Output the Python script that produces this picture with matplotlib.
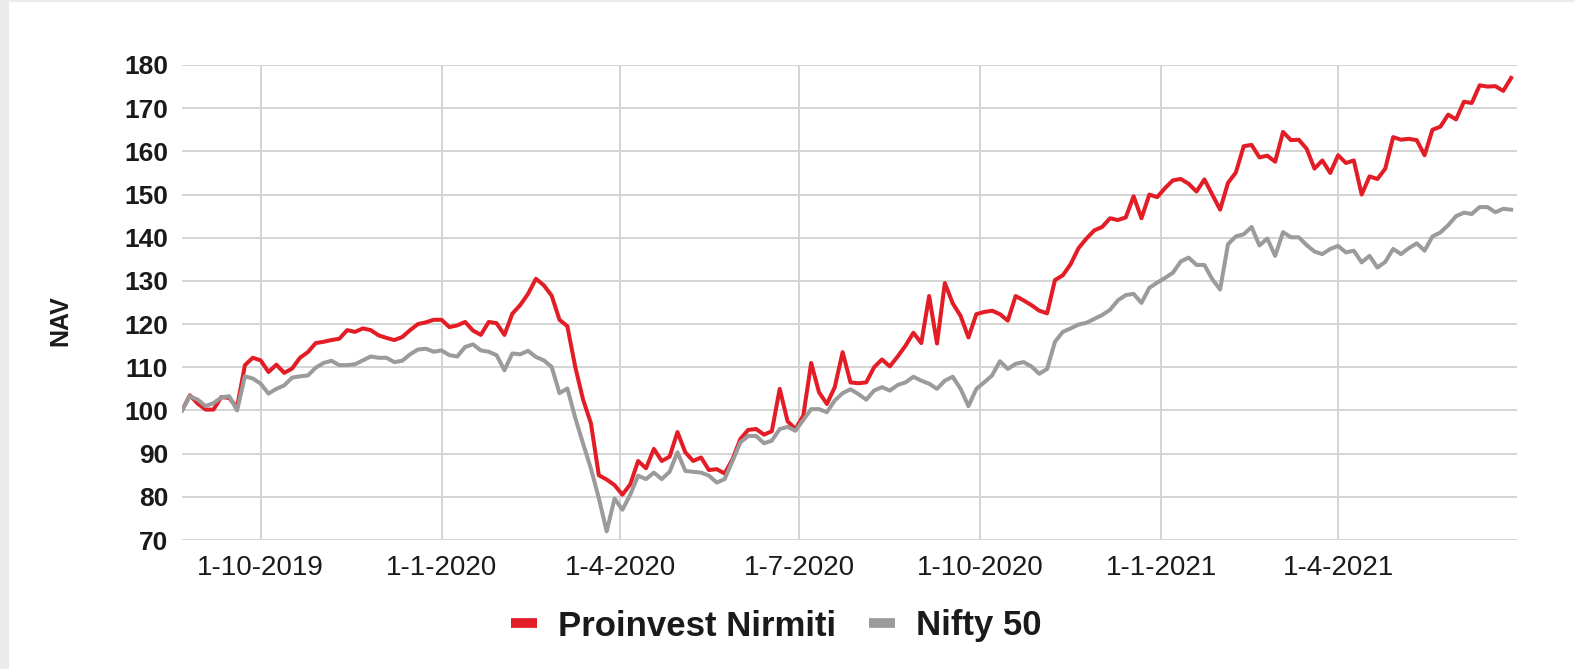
import pandas as pd
import matplotlib
matplotlib.use('Agg')
import matplotlib.pyplot as plt
from matplotlib.lines import Line2D
from matplotlib.patches import Rectangle

plt.rcParams['font.family'] = ['Liberation Sans', 'DejaVu Sans']

# NAV, um ponto a cada 4 dias a partir de 22-8-2019
proinvest = [
    100.0, 103.5, 101.6, 100.2, 100.2, 103.1, 102.9, 100.7, 110.5, 112.2,
    111.6, 108.9, 110.6, 108.7, 109.7, 112.2, 113.5, 115.6, 115.9, 116.3,
    116.6, 118.6, 118.2, 119.0, 118.6, 117.4, 116.8, 116.3, 117.0, 118.6,
    120.0, 120.4, 121.0, 121.0, 119.3, 119.7, 120.5, 118.5, 117.5, 120.5,
    120.2, 117.5, 122.4, 124.4, 127.0, 130.5, 129.0, 126.6, 121.0, 119.5,
    110.1, 102.5, 97.0, 85.0, 84.0, 82.7, 80.5, 82.9, 88.3, 86.6,
    91.1, 88.3, 89.3, 95.0, 90.3, 88.3, 89.1, 86.2, 86.4, 85.4,
    88.7, 93.4, 95.5, 95.7, 94.4, 95.2, 105.0, 97.5, 95.7, 98.8,
    111.0, 104.2, 101.5, 105.4, 113.5, 106.5, 106.3, 106.5, 110.0, 111.8,
    110.2, 112.5, 115.0, 118.0, 115.6, 126.5, 115.5, 129.5, 124.8, 121.9,
    116.9, 122.3, 122.8, 123.1, 122.3, 120.8, 126.5, 125.5, 124.4, 123.1,
    122.5, 130.2, 131.3, 133.9, 137.6, 139.8, 141.7, 142.5, 144.5, 144.1,
    144.7, 149.6, 144.5, 150.0, 149.4, 151.5, 153.3, 153.6, 152.5, 150.7,
    153.5, 150.0, 146.5, 152.7, 155.1, 161.2, 161.5, 158.6, 159.0, 157.6,
    164.5, 162.6, 162.7, 160.6, 156.0, 157.9, 155.0, 159.1, 157.3, 157.9,
    150.0, 154.2, 153.6, 156.0, 163.3, 162.7, 162.9, 162.6, 159.1, 165.0,
    165.7, 168.5, 167.4, 171.5, 171.2, 175.3, 175.0, 175.1, 174.0, 177.0,
]

nifty = [
    100.0, 103.3, 102.5, 101.0, 101.7, 103.0, 103.3, 100.0, 107.9, 107.4,
    106.2, 103.9, 105.0, 105.8, 107.6, 107.9, 108.1, 109.9, 111.0, 111.5,
    110.5, 110.5, 110.7, 111.6, 112.5, 112.2, 112.2, 111.2, 111.5, 113.0,
    114.1, 114.3, 113.6, 113.9, 112.8, 112.5, 114.7, 115.3, 113.9, 113.6,
    112.8, 109.3, 113.2, 113.0, 113.8, 112.4, 111.6, 110.1, 104.0, 105.1,
    98.3, 92.3, 86.5, 79.7, 72.0, 79.6, 77.0, 80.5, 84.9, 84.1,
    85.6, 84.1, 85.8, 90.3, 86.0, 85.8, 85.6, 84.9, 83.3, 84.1,
    88.3, 92.6, 94.1, 94.1, 92.4, 93.0, 95.7, 96.2, 95.3, 97.8,
    100.3, 100.3, 99.6, 102.3, 104.0, 104.9, 103.8, 102.5, 104.6, 105.4,
    104.6, 105.9, 106.5, 107.8, 106.9, 106.2, 105.0, 106.9, 107.8, 105.0,
    101.0, 105.0, 106.5, 108.1, 111.4, 109.6, 110.8, 111.2, 110.2, 108.5,
    109.6, 115.9, 118.2, 119.0, 119.9, 120.3, 121.2, 122.1, 123.3, 125.5,
    126.7, 127.0, 124.9, 128.4, 129.6, 130.7, 131.9, 134.5, 135.4, 133.7,
    133.7, 130.4, 128.0, 138.5, 140.3, 140.8, 142.5, 138.2, 139.8, 135.8,
    141.3, 140.1, 140.1, 138.3, 136.8, 136.2, 137.4, 138.1, 136.6, 137.0,
    134.3, 135.8, 133.1, 134.4, 137.4, 136.2, 137.6, 138.7, 137.0, 140.3,
    141.2, 142.9, 145.0, 145.8, 145.5, 147.1, 147.1, 145.9, 146.7, 146.5,
]

datas = pd.date_range('2019-08-22', periods=len(proinvest), freq='4D')
marcos = pd.to_datetime(['2019-10-01', '2020-01-01', '2020-04-01', '2020-07-01',
                         '2020-10-01', '2021-01-01', '2021-04-01'])

cor_fundo = '#ebebeb'
vermelho = '#e31d25'
cinza = '#9b9b9b'
texto = '#1a1a1a'

fig = plt.figure(figsize=(15.75, 6.69), dpi=100, facecolor=cor_fundo)
# cartao branco atras de tudo
fig.patches.append(Rectangle((8.5 / 1575, 0), 1, 1 - 2 / 669, transform=fig.transFigure,
                             facecolor='white', edgecolor='none', zorder=-10))

ax = fig.add_axes([182 / 1575, 1 - 540 / 669, (1517 - 182) / 1575, (540 - 65) / 669])
ax.set_zorder(1)
ax.set_facecolor('white')

ax.plot(datas, proinvest, color=vermelho, lw=2.9, solid_joinstyle='round')
ax.plot(datas, nifty, color=cinza, lw=2.9, solid_joinstyle='round')

ax.set_ylim(70, 180)
ax.set_yticks(range(70, 181, 10))
ax.set_xlim(pd.Timestamp('2019-08-22'), pd.Timestamp('2021-07-01'))
ax.set_xticks(marcos)
ax.set_xticklabels([f'{d.day}-{d.month}-{d.year}' for d in marcos])

ax.grid(True, color='#d4d4d4', lw=1.4)
ax.set_axisbelow(True)
for s in ax.spines.values():
    s.set_visible(False)
ax.tick_params(length=0, colors=texto)
ax.tick_params(axis='y', pad=10, labelsize=19)
ax.tick_params(axis='x', pad=11, labelsize=20)
for t in ax.get_yticklabels():
    t.set_fontweight('bold')

fig.text(60 / 1575, 1 - 321 / 669, 'NAV', rotation=90, ha='center', va='center',
         fontsize=18, fontweight='bold', color=texto)

handles = [Line2D([0], [0], color=vermelho, lw=7, solid_capstyle='butt'),
           Line2D([0], [0], color=cinza, lw=7, solid_capstyle='butt')]
leg = fig.legend(handles, ['Proinvest Nirmiti', 'Nifty 50'], loc='center',
                 bbox_to_anchor=(0.493, 1 - 626 / 669), ncol=2, frameon=False,
                 prop={'weight': 'bold', 'size': 25}, handlelength=0.75,
                 handletextpad=0.6, columnspacing=0.95)
for t in leg.get_texts():
    t.set_color(texto)

plt.savefig('out.png', dpi=100, facecolor=fig.get_facecolor())
